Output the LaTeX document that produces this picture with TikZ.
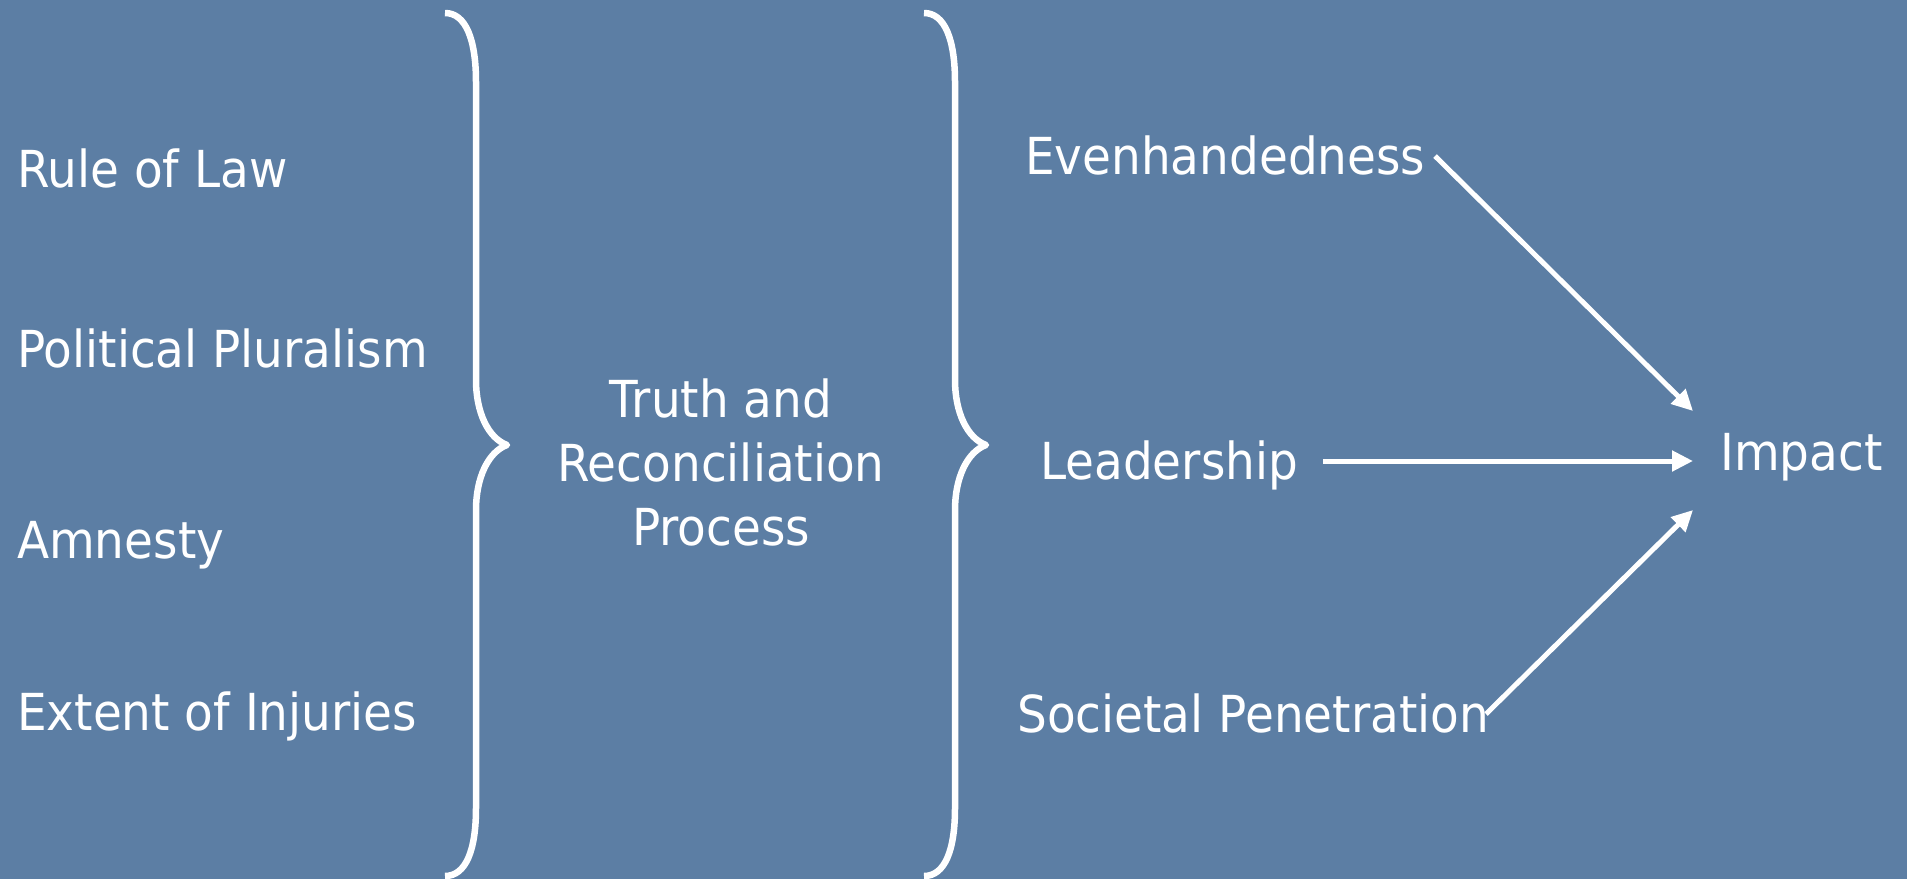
\documentclass[tikz,border=0pt]{standalone}
\usepackage{fontspec}
\setmainfont{DejaVu Sans}[FakeStretch=0.92]
\usetikzlibrary{arrows.meta}
\definecolor{bgblue}{RGB}{92,126,164}
\tikzset{
  lbl/.style={text=white, inner sep=0pt, font=\fontsize{51}{64}\selectfont},
  brace/.style={draw=white, line width=6.5pt, line cap=butt, line join=round},
  arr/.style={draw=white, line width=5pt, -{Triangle[length=21pt,width=20pt]}}
}
\begin{document}
\begin{tikzpicture}[x=1pt,y=-1pt]
\fill[bgblue] (0,0) rectangle (1907,879);
\useasboundingbox (0,0) rectangle (1907,879);
% left column
\node[lbl, anchor=base west] (rule) at (17,187) {Rule of Law};
\node[lbl, anchor=base west] (plur) at (17,367) {Political Pluralism};
\node[lbl, anchor=base west] (amn) at (17,558) {Amnesty};
\node[lbl, anchor=base west] (ext) at (17,730) {Extent of Injuries};
% braces
\draw[brace] (445,13) .. controls (466,13) and (476,40) .. (476,82) -- (476,380)
  .. controls (476,412) and (488,438) .. (507,445)
  .. controls (488,452) and (476,478) .. (476,510) -- (476,808)
  .. controls (476,850) and (466,876) .. (445,876);
\draw[brace] (924,13) .. controls (945,13) and (955,40) .. (955,82) -- (955,380)
  .. controls (955,412) and (967,438) .. (986,445)
  .. controls (967,452) and (955,478) .. (955,510) -- (955,808)
  .. controls (955,850) and (945,876) .. (924,876);
% middle
\node[lbl, align=center, anchor=center] (trc) at (721,462) {Truth and\\Reconciliation\\Process};
% right column
\node[lbl, anchor=base west] (even) at (1025,174) {Evenhandedness};
\node[lbl, anchor=base west] (lead) at (1040,479) {Leadership};
\node[lbl, anchor=base west] (soc) at (1017,732) {Societal Penetration};
\node[lbl, anchor=base west] (imp) at (1720,470) {Impact};
% arrow ends
\coordinate (e1) at (1435,156);
\coordinate (l1) at (1323,461);
\coordinate (s1) at (1486,714);
\coordinate (t1) at (1693,411);
\coordinate (t2) at (1693,461);
\coordinate (t3) at (1693,510);
\draw[arr] (e1) -- (t1);
\draw[arr] (l1) -- (t2);
\draw[arr] (s1) -- (t3);
\end{tikzpicture}
\end{document}
